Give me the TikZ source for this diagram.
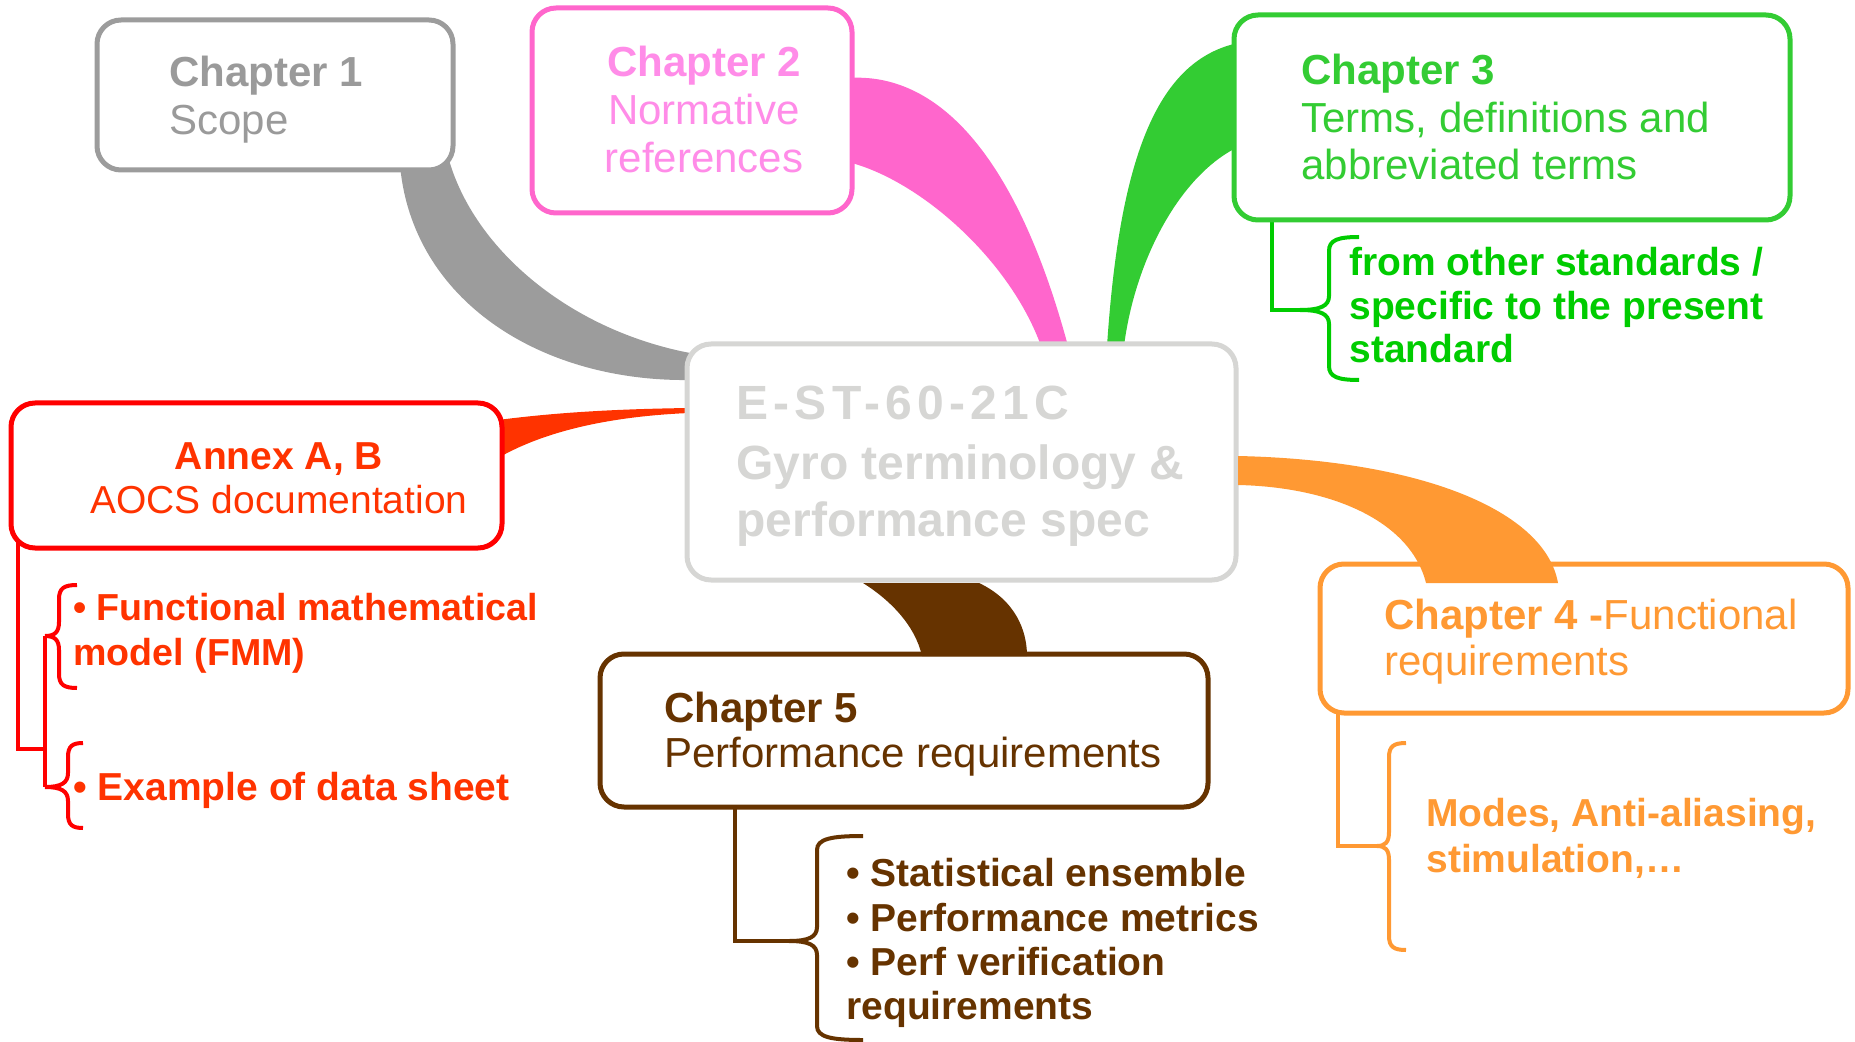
\documentclass[tikz,border=0pt]{standalone}
\usepackage{fontspec}
\setmainfont{Liberation Sans}
\usetikzlibrary{calc}
\definecolor{cgray}{HTML}{9C9C9C}
\definecolor{cgrayt}{HTML}{9A9A9A}
\definecolor{cpink}{HTML}{FF66CC}
\definecolor{cpinkt}{HTML}{FF8CE8}
\definecolor{cgreen}{HTML}{33CC33}
\definecolor{cgreenb}{HTML}{00CC00}
\definecolor{clight}{HTML}{D6D6D4}
\definecolor{cred}{HTML}{FF0000}
\definecolor{credt}{HTML}{FF3300}
\definecolor{cbrown}{HTML}{663300}
\definecolor{corange}{HTML}{FF9933}
\pgfdeclarelayer{bg}
\pgfsetlayers{bg,main}
\tikzset{
 box/.style={draw, line width=2.5pt, rounded corners=12pt, fill=white, inner sep=0pt, outer sep=0pt, anchor=north west},
 tl/.style={anchor=base west, inner sep=0pt, font=\fontsize{21}{24}\selectfont},
 tc/.style={anchor=base, inner sep=0pt, font=\fontsize{21}{24}\selectfont},
 tan/.style={anchor=base, inner sep=0pt, font=\fontsize{19.5}{22}\selectfont},
 tsub/.style={anchor=base west, inner sep=0pt, font=\fontsize{19.5}{22}\selectfont\bfseries},
 tsubs/.style={anchor=base west, inner sep=0pt, font=\fontsize{18.8}{22}\selectfont\bfseries},
 tcen/.style={anchor=base west, inner sep=0pt, font=\fontsize{24}{29}\selectfont\bfseries, text=clight},
 stem/.style={line width=2pt},
}
\newcommand\mybrace[7]{% color, hookx, barx, tipx, top, tipy, bottom
\draw[stem,draw=#1] (#2,#5) .. controls ({#3+0.3*(#2-#3)},#5) and (#3,{#5+3}) .. (#3,{#5+14})
 -- (#3,{#6-14}) .. controls (#3,{#6-4}) and ({#3+0.3*(#4-#3)},#6) .. (#4,#6)
 .. controls ({#3+0.3*(#4-#3)},#6) and (#3,{#6+4}) .. (#3,{#6+14})
 -- (#3,{#7-14}) .. controls (#3,{#7-3}) and ({#3+0.3*(#2-#3)},#7) .. (#2,#7);}
\begin{document}
\begin{tikzpicture}[x=0.5pt,y=-0.5pt]
\useasboundingbox (0,0) rectangle (1855,1042);
% boxes
\node[box, draw=cgray, minimum width=178pt, minimum height=75pt] (c1) at (97,20) {};
\node[box, draw=cpink, minimum width=160pt, minimum height=102.5pt] (c2) at (532,8) {};
\node[box, draw=cgreen, minimum width=278pt, minimum height=102.5pt] (c3) at (1234,15) {};
\node[box, draw=clight, minimum width=274.5pt, minimum height=118pt] (ctr) at (687,344) {};
\node[box, draw=cred, minimum width=245.5pt, minimum height=72.5pt] (annex) at (11,403) {};
\node[box, draw=cbrown, minimum width=304pt, minimum height=76.5pt] (c5) at (600,654) {};
\node[box, draw=corange, minimum width=264pt, minimum height=74.5pt] (c4) at (1320,564) {};
% connector end points
\coordinate (b3tip) at (1300,310);
\coordinate (annmid) at (45,749);
\coordinate (b1tip) at (45,636);
\coordinate (b2tip) at (45,787);
\coordinate (b5tip) at (789,941);
\coordinate (b4tip) at (1377,846);
\begin{pgfonlayer}{bg}
% stems
\draw[stem, draw=cgreenb] ([xshift=19pt,yshift=5pt]c3.south west) |- (b3tip);
\draw[stem, draw=cred] ([xshift=3.5pt,yshift=10pt]annex.south west) |- (annmid);
\draw[stem, draw=cred] (b1tip) -- (b2tip);
\draw[stem, draw=cbrown] ([xshift=67.5pt,yshift=5pt]c5.south west) |- (b5tip);
\draw[stem, draw=corange] ([xshift=9pt,yshift=5pt]c4.south west) |- (b4tip);
% braces
\mybrace{cgreenb}{1359}{1329}{1300}{237}{310}{380}
\mybrace{cred}{77}{59}{45}{585}{636}{688}
\mybrace{cred}{83}{68}{45}{743}{787}{828}
\mybrace{cbrown}{863}{817}{789}{836}{941}{1040}
\mybrace{corange}{1406}{1389}{1377}{743}{846}{950}
% tapered connectors behind boxes
\fill[cgray] (400,165) .. controls (412,300) and (540,382) .. (690,380) -- (690,353) .. controls (570,330) and (475,250) .. (449,160) -- cycle;
\fill[cpink] (848,78) .. controls (935,72) and (1015,150) .. (1068,346) -- (1041,346) .. controls (1010,260) and (920,180) .. (848,162) -- cycle;
\fill[cgreen] (1238,43) .. controls (1160,60) and (1120,150) .. (1107,346) -- (1124,346) .. controls (1135,260) and (1180,175) .. (1238,147) -- cycle;
\fill[credt] (498,420) .. controls (560,412) and (620,409) .. (689,408) -- (689,413) .. controls (620,416) and (550,428) .. (498,458) -- cycle;
\end{pgfonlayer}
% tapered connectors over boxes
\fill[corange] (1238,456) .. controls (1420,460) and (1545,510) .. (1558,583) -- (1426,583) .. controls (1410,520) and (1330,487) .. (1238,485) -- cycle;
\fill[cbrown] (863,583) .. controls (890,600) and (915,625) .. (922,656) -- (1027,656) .. controls (1027,630) and (1015,600) .. (979,583) -- cycle;
% texts
\node[tl, text=cgrayt] (c1a) at (169,87) {\textbf{Chapter 1}};
\node[tl, text=cgrayt] (c1b) at (169,135) {Scope};
\node[tc, text=cpinkt] (c2a) at (704,77) {\textbf{Chapter 2}};
\node[tc, text=cpinkt] (c2b) at (704,125) {Normative};
\node[tc, text=cpinkt] (c2c) at (704,173) {references};
\node[tl, text=cgreen] (c3a) at (1301,85) {\textbf{Chapter 3}};
\node[tl, text=cgreen] (c3b) at (1301,133) {Terms, definitions and};
\node[tl, text=cgreen] (c3c) at (1301,180) {abbreviated terms};
\node[tcen] (ca) at (736,420) {\addfontfeature{LetterSpace=11}E-ST-60-21C};
\node[tcen] (cb) at (736,479) {Gyro terminology \&};
\node[tcen] (cc) at (736,536) {performance spec};
\node[tan, text=credt] (aa) at (279,469) {\textbf{Annex A, B}};
\node[tan, text=credt] (ab) at (279,513) {AOCS documentation};
\node[tl, text=cbrown] (c5a) at (664,722) {\textbf{Chapter 5}};
\node[tl, text=cbrown] (c5b) at (664,767) {Performance requirements};
\node[tl, text=corange] (c4a) at (1384,629) {\textbf{Chapter 4 -}Functional};
\node[tl, text=corange] (c4b) at (1384,675) {requirements};
\node[tsub, text=cgreenb] (s3a) at (1349,276) {from other standards /};
\node[tsub, text=cgreenb] (s3b) at (1349,320) {specific to the present};
\node[tsub, text=cgreenb] (s3c) at (1349,363) {standard};
\node[tsubs, text=credt] (sa1) at (73,620) {• Functional mathematical};
\node[tsubs, text=credt] (sa2) at (73,665) {model (FMM)};
\node[tsub, text=credt] (sa3) at (73,800) {• Example of data sheet};
\node[tsub, text=cbrown] (s5a) at (846,886) {• Statistical ensemble};
\node[tsub, text=cbrown] (s5b) at (846,931) {• Performance metrics};
\node[tsub, text=cbrown] (s5c) at (846,975) {• Perf verification};
\node[tsub, text=cbrown] (s5d) at (846,1019) {requirements};
\node[tsub, text=corange] (s4a) at (1426,826) {Modes, Anti-aliasing,};
\node[tsub, text=corange] (s4b) at (1426,872) {stimulation,…};
\end{tikzpicture}
\end{document}
